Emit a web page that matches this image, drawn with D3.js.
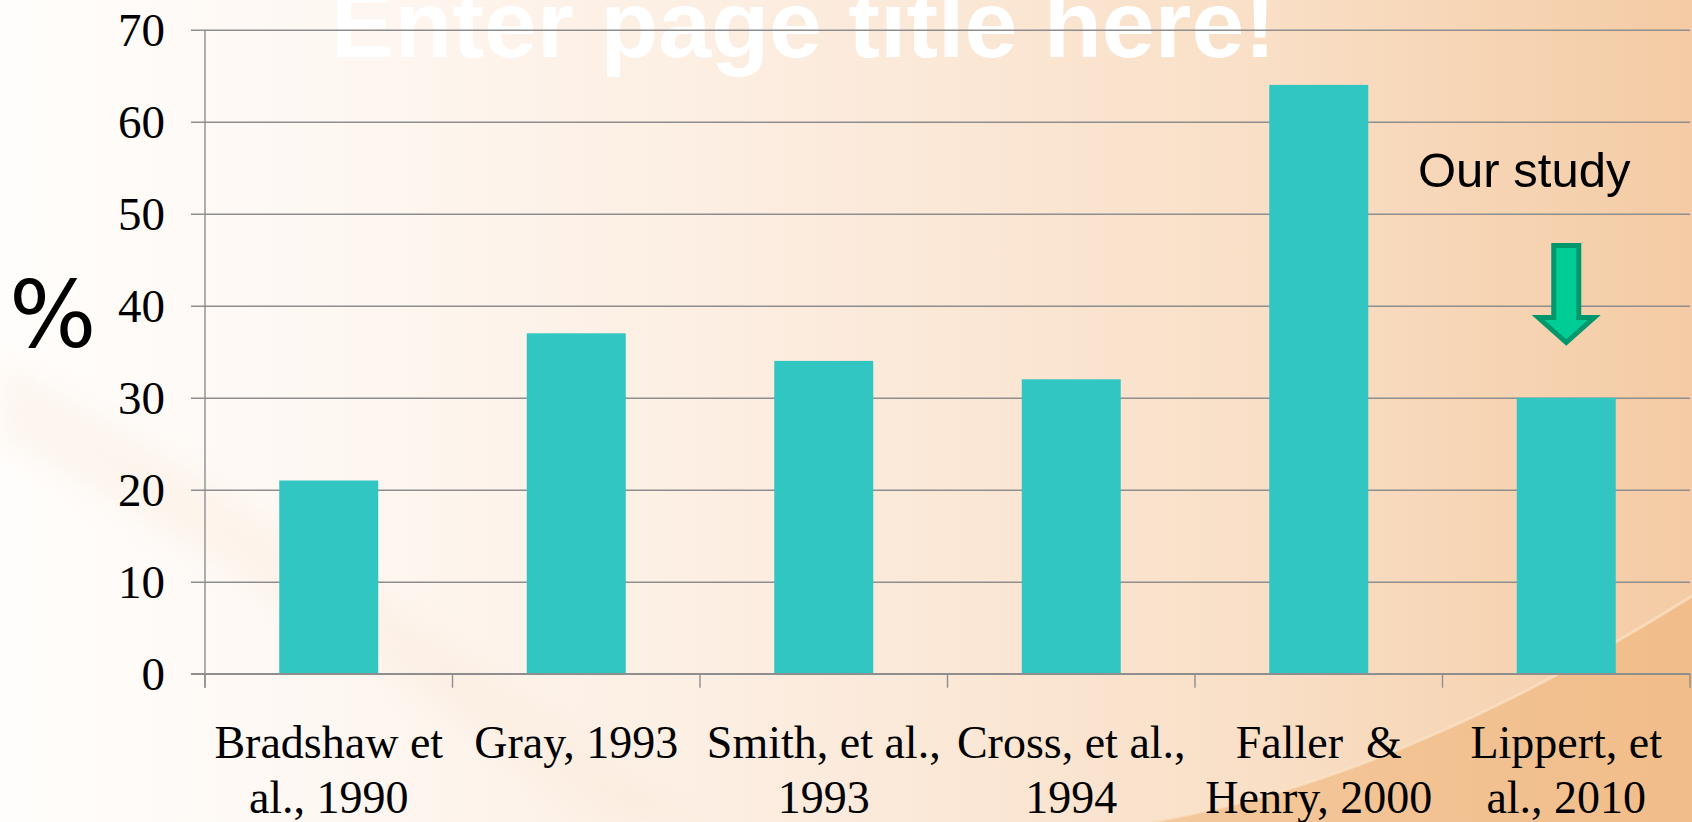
<!DOCTYPE html>
<html>
<head>
<meta charset="utf-8">
<script src="https://cdn.jsdelivr.net/npm/d3@7"></script>
<style>
  html, body { margin: 0; padding: 0; overflow: hidden; background: #fff; }
  svg { display: block; }
</style>
</head>
<body>
<svg id="chart" width="1692" height="822"></svg>
<script>
// Prevalence (%) reported by each study
const studies = [
  "Bradshaw et al., 1990",
  "Gray, 1993",
  "Smith, et al., 1993",
  "Cross, et al., 1994",
  "Faller & Henry, 2000",
  "Lippert, et al., 2010"
];
const studyLabelLines = [
  ["Bradshaw et", "al., 1990"],
  ["Gray, 1993"],
  ["Smith, et al.,", "1993"],
  ["Cross, et al.,", "1994"],
  ["Faller  &", "Henry, 2000"],
  ["Lippert, et", "al., 2010"]
];
const percentages = [21, 37, 34, 32, 64, 30];
const yTickValues = [0, 10, 20, 30, 40, 50, 60, 70];
const highlightStudy = "Lippert, et al., 2010";
const highlightText = "Our study";
const pageTitle = "Enter page title here!";
const yAxisTitle = "%";

const W = 1692, H = 822;
const svg = d3.select("#chart");
const defs = svg.append("defs");

// ---- slide background ----
const bg = defs.append("linearGradient").attr("id", "bgGrad")
  .attr("x1", "0").attr("y1", "0").attr("x2", "1").attr("y2", "0");
[[0, "#fffdfb"], [0.18, "#fef8f3"], [0.45, "#fcede0"], [0.75, "#f9dfc6"], [1, "#f4cba4"]]
  .forEach(([o, c]) => bg.append("stop").attr("offset", o).attr("stop-color", c));

const lowGrad = defs.append("linearGradient").attr("id", "lowGrad")
  .attr("x1", "0").attr("y1", "0").attr("x2", "1").attr("y2", "0");
[[0, "#f4c89c"], [1, "#f1bd8a"]]
  .forEach(([o, c]) => lowGrad.append("stop").attr("offset", o).attr("stop-color", c));

const blur = defs.append("filter").attr("id", "soft").attr("x", "-20%").attr("y", "-20%")
  .attr("width", "140%").attr("height", "140%");
blur.append("feGaussianBlur").attr("stdDeviation", 14);

svg.append("rect").attr("width", W).attr("height", H).attr("fill", "url(#bgGrad)");

// faint sweeping band across the lower left
svg.append("path")
  .attr("d", "M0,360 C200,470 450,640 700,822 L600,822 C380,660 180,530 0,440 Z")
  .attr("fill", "#f9e6d4").attr("opacity", 0.3).attr("filter", "url(#soft)");

// deeper orange wedge in the lower right with a light rim
svg.append("path")
  .attr("d", "M1150,822 Q1400,780 1692,596 L1692,822 Z")
  .attr("fill", "url(#lowGrad)");
svg.append("path")
  .attr("d", "M1150,822 Q1400,780 1692,596")
  .attr("fill", "none").attr("stroke", "#fbe2c8").attr("stroke-width", 3).attr("opacity", 0.7);

// ---- title (sits behind the plot) ----
svg.append("text")
  .attr("x", 331).attr("y", 57)
  .attr("font-family", "'Liberation Sans', Arial, sans-serif")
  .attr("font-weight", "bold").attr("font-size", 95)
  .attr("fill", "#ffffff")
  .text(pageTitle);

// ---- scales ----
const plotLeft = 205, plotRight = 1690;
const x = d3.scaleBand().domain(studies).range([plotLeft, plotRight])
  .paddingInner(0.6).paddingOuter(0.3);
const y = d3.scaleLinear().domain([0, 70]).range([673.7, 29.7]);

const serif = "'Liberation Serif', 'Times New Roman', Times, serif";
const gridColor = "#8e8e8e";

// ---- gridlines + y tick labels ----
const tickStart = 191;
const yAxis = d3.axisLeft(y)
  .tickValues(yTickValues)
  .tickSizeInner(-(plotRight - tickStart))
  .tickSizeOuter(0)
  .tickPadding(26)
  .tickFormat(d3.format("d"));

const gy = svg.append("g").attr("transform", `translate(${tickStart},0)`).call(yAxis);
gy.select(".domain").remove();
gy.selectAll(".tick line").attr("stroke", gridColor).attr("stroke-width", 1.4);
gy.selectAll(".tick text")
  .attr("font-family", serif).attr("font-size", 47).attr("fill", "#000")
  .attr("dy", "0.34em");

// vertical axis line
svg.append("line")
  .attr("x1", plotLeft).attr("x2", plotLeft)
  .attr("y1", y(70)).attr("y2", y(0) + 14)
  .attr("stroke", gridColor).attr("stroke-width", 1.4);

// category boundary ticks
const boundaries = d3.range(studies.length + 1)
  .map(i => plotLeft + i * x.step());
svg.append("g").selectAll("line").data(boundaries).join("line")
  .attr("x1", d => d).attr("x2", d => d)
  .attr("y1", y(0)).attr("y2", y(0) + 14)
  .attr("stroke", gridColor).attr("stroke-width", 1.4);

// ---- bars ----
svg.append("g").selectAll("rect")
  .data(studies.map((s, i) => ({ study: s, value: percentages[i] })))
  .join("rect")
  .attr("x", d => x(d.study))
  .attr("width", x.bandwidth())
  .attr("y", d => y(d.value))
  .attr("height", d => y(0) - y(d.value))
  .attr("fill", "#32c6c3");

// redraw the zero line over the bar bases
svg.append("line")
  .attr("x1", tickStart).attr("x2", plotRight)
  .attr("y1", y(0)).attr("y2", y(0))
  .attr("stroke", gridColor).attr("stroke-width", 1.4);

// ---- category labels ----
const labels = svg.append("g")
  .attr("font-family", serif).attr("font-size", 46).attr("fill", "#000")
  .attr("text-anchor", "middle");
studies.forEach((s, i) => {
  const cx = x(s) + x.bandwidth() / 2;
  const t = labels.append("text").attr("x", cx).attr("y", 758)
    .style("white-space", "pre");
  studyLabelLines[i].forEach((line, j) => {
    t.append("tspan").attr("x", cx).attr("dy", j === 0 ? 0 : 55).text(line);
  });
});

// ---- y axis title ----
svg.append("text")
  .attr("x", 9).attr("y", 347)
  .attr("font-family", "'DejaVu Sans', Verdana, sans-serif")
  .attr("font-size", 92).attr("fill", "#000")
  .text(yAxisTitle);

// ---- "Our study" annotation ----
const hx = x(highlightStudy) + x.bandwidth() / 2;
const tipY = y(36);
const arrow = [
  [hx - 12.5, tipY - 97],
  [hx + 12.5, tipY - 97],
  [hx + 12.5, tipY - 25],
  [hx + 28, tipY - 25],
  [hx, tipY],
  [hx - 28, tipY - 25],
  [hx - 12.5, tipY - 25]
];
svg.append("path")
  .attr("d", d3.line()(arrow) + "Z")
  .attr("fill", "#00cc96")
  .attr("stroke", "#00976d")
  .attr("stroke-width", 5)
  .attr("stroke-linejoin", "miter");

svg.append("text")
  .attr("x", 1418).attr("y", 187)
  .attr("font-family", "'Liberation Sans', Arial, sans-serif")
  .attr("font-size", 49).attr("fill", "#000")
  .text(highlightText);
</script>
</body>
</html>
